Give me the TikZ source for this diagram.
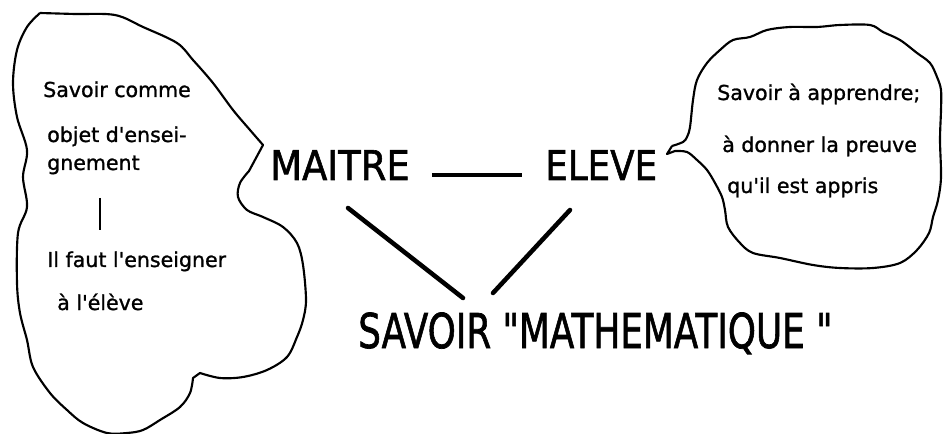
\documentclass[tikz,border=0pt]{standalone}
\usepackage{fontspec}
\setmainfont{DejaVu Sans}[Ligatures=TeXOff]
\newfontfamily\smallf{DejaVu Sans}[Ligatures=TeXOff,FakeBold=1.2]
\newfontfamily\bigf{DejaVu Sans}[Ligatures=TeXOff,FakeBold=1.5]
\usetikzlibrary{calc}
\begin{document}
\begin{tikzpicture}[x=0.75pt,y=-0.75pt,
  small/.style={anchor=base west,inner sep=0pt,font=\smallf\fontsize{15.4}{18}\selectfont},
  big/.style={anchor=base west,inner sep=0pt,font=\bigf\fontsize{30.75}{36}\selectfont},
  huge/.style={anchor=base west,inner sep=0pt,font=\bigf\fontsize{36}{42}\selectfont},
  blob/.style={line width=1.6pt,line join=round},
  link/.style={line width=3.4pt,line cap=round}]
\path[fill=white] (0,0) rectangle (944,434);
\useasboundingbox (0,0) rectangle (944,434);

% left cloud
\draw[blob] plot[smooth,tension=0.55] coordinates {(40,13) (75,14) (115,15) (143,27) (177,43) (193,60) (213,83) (233,110) (250,130) (263,145)}
  -- plot[smooth,tension=0.55] coordinates {(249,171) (240,183) (238,197) (247,210) (263,217) (283,227) (297,243) (303,265) (306,300) (303,320) (297,337) (287,357) (267,370) (243,377) (220,378) (200,373)}
  -- plot[smooth,tension=0.55] coordinates {(193,378) (190,393) (180,407) (160,420) (143,430) (127,433) (107,433) (83,423) (67,410) (50,393) (33,367) (27,340) (20,313) (17,283) (18,233) (27,207) (23,177) (27,150) (17,117) (13,83) (17,50) (27,27) (40,13)};

% right cloud
\draw[blob] plot[smooth,tension=0.55] coordinates {(672,146) (683,142) (687,137) (690,127) (693,100) (697,80) (707,63) (720,50) (733,40) (750,37) (767,30) (790,27) (817,27) (840,25) (870,25) (883,32) (900,40) (917,53) (930,63) (937,77) (941,90) (941,110) (940,140) (941,177) (938,200) (933,217) (929,233) (917,250) (900,263) (873,268) (840,268) (813,265) (780,258) (753,253) (740,243) (728,227) (725,210) (722,197) (715,183) (707,170) (697,160) (687,152) (675,151)}
  -- (667,154) -- (672,146);

% left texts
\node[small] (l1) at (43,97) {Savoir comme};
\node[small] (l2) at (47,142) {objet d'ensei-};
\node[small] (l3) at (47,170) {gnement};
\node[small] (l4) at (47,267) {Il faut l'enseigner};
\node[small] (l5) at (57,310) {à l'élève};
\draw[line width=1.8pt] ($(l3.base west)+(53,28)$) -- ($(l4.base west)+(53,-37)$);

% right texts
\node[small] (r1) at (717,100) {Savoir à apprendre;};
\node[small] (r2) at (722,152) {à donner la preuve};
\node[small] (r3) at (727,193) {qu'il est appris};

% main labels
\node[big] (maitre) at (270,180) {\scalebox{0.9}[1]{MAITRE}};
\node[big] (eleve) at (545,180) {\scalebox{0.87}[1]{ELEVE}};
\node[huge] (savoir) at (358,348) {\scalebox{0.745}[1]{SAVOIR "MATHEMATIQUE "}};

\draw[link,line cap=butt,line width=3pt] ($(maitre.base east)+(22,-5)$) -- ($(eleve.base west)+(-23,-5)$);
\draw[link] ($(maitre.base west)+(78,28)$) -- ($(savoir.base west)+(105,-50)$);
\draw[link] ($(eleve.base west)+(25,30)$) -- ($(savoir.base west)+(135,-55)$);
\end{tikzpicture}
\end{document}
